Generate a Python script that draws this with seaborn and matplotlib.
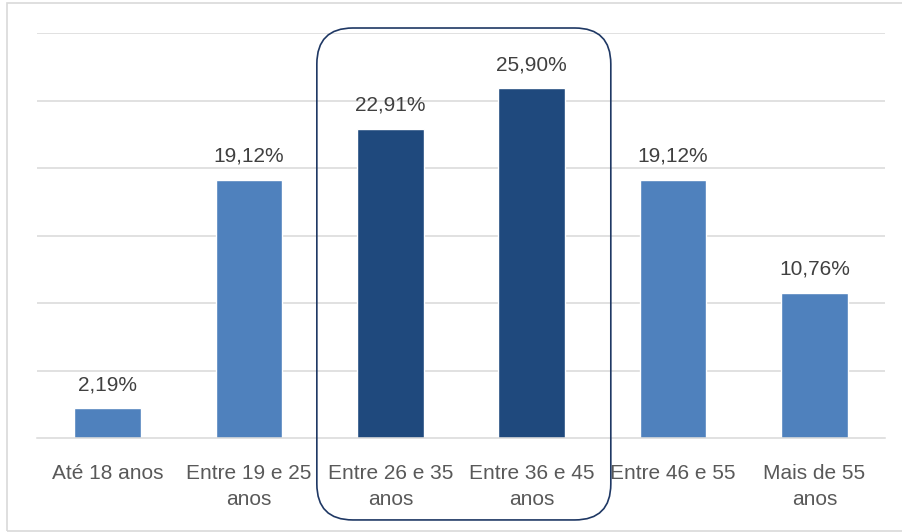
import matplotlib
matplotlib.use("Agg")
import matplotlib.pyplot as plt
import seaborn as sns
from matplotlib.patches import FancyBboxPatch, Rectangle
from matplotlib.transforms import IdentityTransform

# data
categories = ['Até 18 anos', 'Entre 19 e 25\nanos', 'Entre 26 e 35\nanos',
              'Entre 36 e 45\nanos', 'Entre 46 e 55', 'Mais de 55\nanos']
values = [2.19, 19.12, 22.91, 25.90, 19.12, 10.76]
labels = ['2,19%', '19,12%', '22,91%', '25,90%', '19,12%', '10,76%']
highlight = [False, False, True, True, False, False]

light = '#4F81BD'
dark = '#1F497D'
colors = [dark if h else light for h in highlight]

sns.set_style('white')
plt.rcParams['font.family'] = ['Liberation Sans', 'DejaVu Sans']

fig = plt.figure(figsize=(9.03, 5.32), dpi=100)
ax = fig.add_axes([37 / 903, 94 / 532, 848 / 903, 405 / 532])

sns.barplot(x=categories, y=values, hue=categories, palette=colors,
            legend=False, width=0.47, saturation=1, ax=ax)

ax.set_ylim(0, 30)
ax.set_xlim(-0.5, 5.5)
ax.set_yticks([5, 10, 15, 20, 25, 30])
ax.set_yticklabels([])
ax.tick_params(axis='y', length=0)
ax.grid(axis='y', color='#D9D9D9', linewidth=1.1)
ax.set_axisbelow(True)
for s in ['top', 'right', 'left']:
    ax.spines[s].set_visible(False)
ax.spines['bottom'].set_color('#D9D9D9')
ax.spines['bottom'].set_linewidth(1.1)

# category separators below the axis
ax.set_xticks([i - 0.5 for i in range(len(categories) + 1)], minor=True)
ax.tick_params(axis='x', which='minor', length=8, width=1.1, color='#D9D9D9',
               direction='out')
ax.tick_params(axis='x', which='major', length=0, pad=19, labelsize=15,
               labelcolor='#595959')
for t in ax.get_xticklabels():
    t.set_linespacing(1.45)
ax.set_xlabel('')
ax.set_ylabel('')

# value labels
for i, (v, lab) in enumerate(zip(values, labels)):
    ax.annotate(lab, (i, v), xytext=(0, 10), textcoords='offset points',
                ha='center', va='bottom', fontsize=15, color='#404040')

# rounded box around the highlighted bars
idx = [i for i, h in enumerate(highlight) if h]
x0, y0 = ax.transData.transform((idx[0] - 0.52, -6.07))
x1, y1 = ax.transData.transform((idx[-1] + 0.56, 30.37))
box = FancyBboxPatch((x0, y0), x1 - x0, y1 - y0,
                     boxstyle='round,pad=0,rounding_size=36',
                     transform=IdentityTransform(), fill=False,
                     edgecolor='#1F3864', linewidth=1.2, clip_on=False)
fig.patches.append(box)

# chart area border
fig.patches.append(Rectangle((7 / 903, 1.5 / 532), 1.0, 528 / 532,
                             transform=fig.transFigure, fill=False,
                             edgecolor='#D9D9D9', linewidth=1.2))

fig.savefig('out.png', dpi=100)
